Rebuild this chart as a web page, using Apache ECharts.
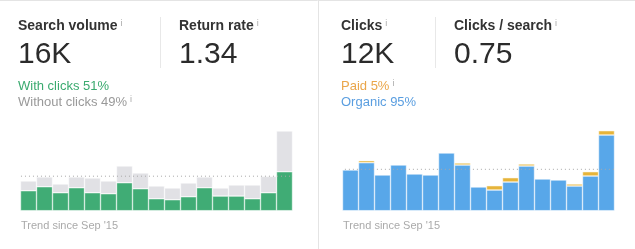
<!DOCTYPE html>
<html><head><meta charset="utf-8">
<script src="https://cdn.jsdelivr.net/npm/echarts@6/dist/echarts.min.js"></script>
<style>html,body{margin:0;padding:0;background:#fff}#c{width:635px;height:249px}</style>
</head><body><div id="c"></div>
<script>
const months = ['Sep 2015','Oct 2015','Nov 2015','Dec 2015','Jan 2016','Feb 2016','Mar 2016','Apr 2016','May 2016','Jun 2016','Jul 2016','Aug 2016','Sep 2016','Oct 2016','Nov 2016','Dec 2016','Jan 2017'];
const withClicks    = [20, 24, 18, 23, 18, 17, 28, 22, 12, 11, 14, 23, 14.7, 14.7, 12, 18, 39];
const withoutClicks = [9.7, 9.7, 8.7, 10.7, 14.7, 12.7, 16.7, 15.7, 12.7, 11.7, 13.7, 10.7, 8, 11, 13.7, 16.3, 40.7];
const organic = [40.7, 48, 35.7, 45.7, 36.7, 35.7, 57.7, 45.7, 23.7, 20.7, 28.7, 44.7, 31.7, 30.7, 24.7, 34.7, 75.7];
const paid    = [0, 2, 0, 0, 0, 0, 0, 2, 0, 4.3, 4.3, 2, 0, 0, 2, 4.3, 4.3];
const searchAvg = 34.5;
const clicksAvg = 41.4;
const yMax = 80;

const FONT = '"Liberation Sans", Arial, Helvetica, sans-serif';
const mctx = document.createElement('canvas').getContext('2d');
function fontStr(size, weight) { return (weight || 'normal') + ' ' + size + 'px ' + FONT; }
function measure(text, size, weight) { mctx.font = fontStr(size, weight); return mctx.measureText(text).width; }
function txt(x, y, text, size, color, weight) {
  return { type: 'text', x: x, y: y, silent: true,
    style: { text: text, fill: color, font: fontStr(size, weight), verticalAlign: 'middle', align: 'left' } };
}
// text followed by a small superscript "i"
function txtI(x, y, text, size, color, weight, iy) {
  const w = measure(text, size, weight);
  return [txt(x, y, text, size, color, weight), txt(x + w + 3, iy, 'i', 9, '#aaa')];
}
function vline(x, y1, y2, color) {
  return { type: 'line', silent: true, shape: { x1: x, y1: y1, x2: x, y2: y2 }, style: { stroke: color, lineWidth: 1 } };
}

const chart = echarts.init(document.getElementById('c'), null, { renderer: 'canvas' });
const barBorder = { borderColor: '#fff', borderWidth: 0.5 };
const dotted = { color: '#a8a8a8', width: 1, type: [1, 3] };
const barCommon = { type: 'bar', barWidth: 16, barCategoryGap: 0 };

chart.setOption({
  animation: false,
  backgroundColor: '#fff',
  grid: [
    { left: 20.5, width: 272, top: 130.7, height: 80 },
    { left: 342.5, width: 272, top: 130.7, height: 80 }
  ],
  xAxis: [
    { type: 'category', gridIndex: 0, data: months, show: false },
    { type: 'category', gridIndex: 1, data: months, show: false },
    { type: 'value', gridIndex: 0, min: 0, max: months.length, show: false },
    { type: 'value', gridIndex: 1, min: 0, max: months.length, show: false }
  ],
  yAxis: [
    { type: 'value', gridIndex: 0, min: 0, max: yMax, show: false },
    { type: 'value', gridIndex: 1, min: 0, max: yMax, show: false }
  ],
  series: [
    Object.assign({ name: 'With clicks', xAxisIndex: 0, yAxisIndex: 0, stack: 'sv', data: withClicks,
      itemStyle: Object.assign({ color: '#40ac75' }, barBorder) }, barCommon),
    Object.assign({ name: 'Without clicks', xAxisIndex: 0, yAxisIndex: 0, stack: 'sv', data: withoutClicks,
      itemStyle: Object.assign({ color: '#e1e1e5' }, barBorder) }, barCommon),
    Object.assign({ name: 'Organic', xAxisIndex: 1, yAxisIndex: 1, stack: 'cl', data: organic,
      itemStyle: Object.assign({ color: '#58a7e9' }, barBorder) }, barCommon),
    Object.assign({ name: 'Paid', xAxisIndex: 1, yAxisIndex: 1, stack: 'cl', data: paid.map(v => v === 0 ? '-' : v),
      itemStyle: Object.assign({ color: '#e6b43a' }, barBorder) }, barCommon),
    { name: 'Search avg', type: 'line', xAxisIndex: 2, yAxisIndex: 0, z: 5, clip: false, silent: true, symbol: 'none',
      data: [[-0.22, searchAvg], [months.length + 0.65, searchAvg]], lineStyle: dotted },
    { name: 'Clicks avg', type: 'line', xAxisIndex: 3, yAxisIndex: 1, z: 5, clip: false, silent: true, symbol: 'none',
      data: [[-0.1, clicksAvg], [months.length + 0.45, clicksAvg]], lineStyle: dotted }
  ],
  graphic: [
    { type: 'line', silent: true, shape: { x1: 0, y1: 0.5, x2: 635, y2: 0.5 }, style: { stroke: '#e4e4e4', lineWidth: 1 } },
    vline(318.5, 0, 249, '#e4e4e4'),
    vline(160.5, 17, 68, '#e8e8e8'),
    vline(435.5, 17, 68, '#e8e8e8')
  ].concat(
    txtI(18, 26, 'Search volume', 14, '#333', 'bold', 23.5),
    txtI(179, 26, 'Return rate', 14, '#333', 'bold', 23.5),
    [txt(18, 55, '16K', 30, '#2b2b2b'), txt(179, 55, '1.34', 30, '#2b2b2b'),
     txt(18, 86.5, 'With clicks 51%', 13, '#3aaa6f')],
    txtI(18, 102.5, 'Without clicks 49%', 13, '#999', 'normal', 99.5),
    txtI(341, 26, 'Clicks', 14, '#333', 'bold', 23.5),
    txtI(454, 26, 'Clicks / search', 14, '#333', 'bold', 23.5),
    [txt(341, 55, '12K', 30, '#2b2b2b'), txt(454, 55, '0.75', 30, '#2b2b2b')],
    txtI(341, 86.5, 'Paid 5%', 13, '#eaa64a', 'normal', 83.5),
    [txt(341, 102.5, 'Organic 95%', 13, '#5a9ee0'),
     txt(21, 226, "Trend since Sep '15", 11, '#aaa'),
     txt(343, 226, "Trend since Sep '15", 11, '#aaa')]
  )
});
</script>
</body></html>
